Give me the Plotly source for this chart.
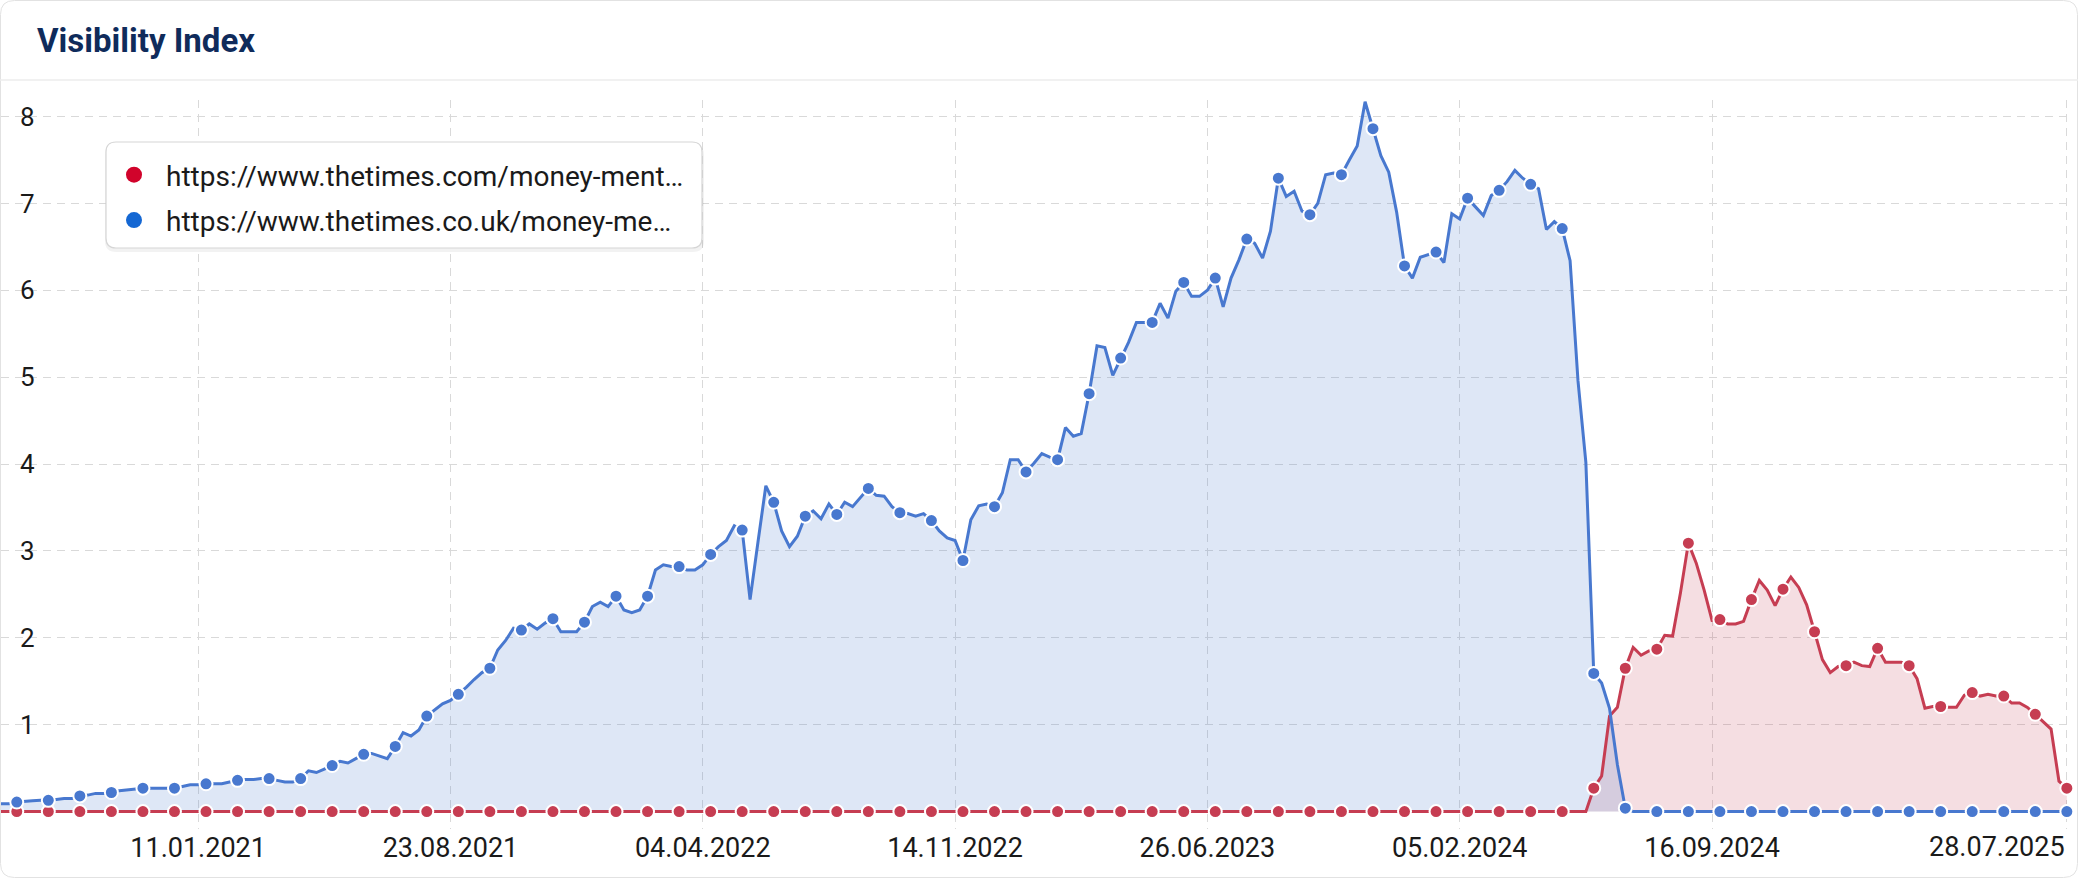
import pandas as pd
import plotly.graph_objects as go

# ---------------- data (weekly Visibility Index) ----------------
week_start = "2020-07-20"
week_end = "2025-07-28"
dates = pd.date_range(week_start, week_end, freq="7D")  # 263 weekly points

series_com_name = "https://www.thetimes.com/money-ment…"
series_couk_name = "https://www.thetimes.co.uk/money-me…"

times_couk = [
    0.09, 0.09, 0.11, 0.12, 0.125, 0.13, 0.13, 0.14, 0.15, 0.15,
    0.18, 0.19, 0.21, 0.21, 0.22, 0.24, 0.25, 0.26, 0.27, 0.27,
    0.27, 0.27, 0.27, 0.29, 0.31, 0.31, 0.32, 0.32, 0.32, 0.34,
    0.36, 0.37, 0.37, 0.38, 0.38, 0.36, 0.34, 0.34, 0.38, 0.47,
    0.45, 0.49, 0.53, 0.58, 0.56, 0.61, 0.66, 0.67, 0.64, 0.61,
    0.75, 0.91, 0.87, 0.94, 1.10, 1.17, 1.24, 1.28, 1.35, 1.43,
    1.52, 1.60, 1.65, 1.86, 1.97, 2.11, 2.09, 2.16, 2.10, 2.17,
    2.22, 2.07, 2.07, 2.07, 2.18, 2.36, 2.41, 2.36, 2.48, 2.32,
    2.29, 2.32, 2.48, 2.78, 2.84, 2.82, 2.82, 2.78, 2.78, 2.84,
    2.96, 3.05, 3.12, 3.29, 3.24, 2.44, 3.10, 3.75, 3.56, 3.23,
    3.05, 3.17, 3.40, 3.46, 3.37, 3.54, 3.42, 3.56, 3.51, 3.62,
    3.72, 3.64, 3.63, 3.51, 3.44, 3.43, 3.40, 3.43, 3.35, 3.23,
    3.15, 3.12, 2.89, 3.36, 3.52, 3.54, 3.51, 3.67, 4.05, 4.05,
    3.91, 4.01, 4.12, 4.08, 4.05, 4.42, 4.32, 4.35, 4.81, 5.36,
    5.34, 5.02, 5.22, 5.40, 5.63, 5.63, 5.63, 5.85, 5.68, 5.99,
    6.09, 5.93, 5.93, 6.00, 6.14, 5.81, 6.14, 6.35, 6.59, 6.54,
    6.37, 6.68, 7.29, 7.08, 7.14, 6.91, 6.87, 7.00, 7.33, 7.35,
    7.33, 7.50, 7.66, 8.17, 7.86, 7.55, 7.36, 6.90, 6.28, 6.14,
    6.38, 6.41, 6.44, 6.32, 6.88, 6.82, 7.06, 6.96, 6.86, 7.09,
    7.15, 7.25, 7.38, 7.29, 7.22, 7.17, 6.70, 6.79, 6.71, 6.34,
    4.96, 4.02, 1.59, 1.48, 1.19, 0.54, 0.04, 0, 0, 0,
    0, 0, 0, 0, 0, 0, 0, 0, 0, 0,
    0, 0, 0, 0, 0, 0, 0, 0, 0, 0,
    0, 0, 0, 0, 0, 0, 0, 0, 0, 0,
    0, 0, 0, 0, 0, 0, 0, 0, 0, 0,
    0, 0, 0, 0, 0, 0, 0, 0, 0, 0,
    0, 0, 0,
]

times_com = [
    0, 0, 0, 0, 0, 0, 0, 0, 0, 0,
    0, 0, 0, 0, 0, 0, 0, 0, 0, 0,
    0, 0, 0, 0, 0, 0, 0, 0, 0, 0,
    0, 0, 0, 0, 0, 0, 0, 0, 0, 0,
    0, 0, 0, 0, 0, 0, 0, 0, 0, 0,
    0, 0, 0, 0, 0, 0, 0, 0, 0, 0,
    0, 0, 0, 0, 0, 0, 0, 0, 0, 0,
    0, 0, 0, 0, 0, 0, 0, 0, 0, 0,
    0, 0, 0, 0, 0, 0, 0, 0, 0, 0,
    0, 0, 0, 0, 0, 0, 0, 0, 0, 0,
    0, 0, 0, 0, 0, 0, 0, 0, 0, 0,
    0, 0, 0, 0, 0, 0, 0, 0, 0, 0,
    0, 0, 0, 0, 0, 0, 0, 0, 0, 0,
    0, 0, 0, 0, 0, 0, 0, 0, 0, 0,
    0, 0, 0, 0, 0, 0, 0, 0, 0, 0,
    0, 0, 0, 0, 0, 0, 0, 0, 0, 0,
    0, 0, 0, 0, 0, 0, 0, 0, 0, 0,
    0, 0, 0, 0, 0, 0, 0, 0, 0, 0,
    0, 0, 0, 0, 0, 0, 0, 0, 0, 0,
    0, 0, 0, 0, 0, 0, 0, 0, 0, 0,
    0, 0, 0.27, 0.41, 1.10, 1.20, 1.65, 1.89, 1.80, 1.85,
    1.87, 2.03, 2.02, 2.52, 3.09, 2.86, 2.55, 2.20, 2.21, 2.16,
    2.16, 2.19, 2.44, 2.66, 2.55, 2.37, 2.56, 2.70, 2.58, 2.38,
    2.07, 1.75, 1.60, 1.67, 1.68, 1.72, 1.68, 1.67, 1.88, 1.72,
    1.72, 1.72, 1.68, 1.53, 1.19, 1.21, 1.21, 1.20, 1.20, 1.34,
    1.37, 1.33, 1.35, 1.33, 1.33, 1.25, 1.25, 1.20, 1.12, 1.04,
    0.95, 0.35, 0.27,
]

tick_dates = ["2021-01-11", "2021-08-23", "2022-04-04", "2022-11-14",
              "2023-06-26", "2024-02-05", "2024-09-16", "2025-07-28"]
tick_labels = ["11.01.2021", "23.08.2021", "04.04.2022", "14.11.2022",
               "26.06.2023", "05.02.2024", "16.09.2024", ""]
last_tick_label = "28.07.2025"
y_ticks = [1, 2, 3, 4, 5, 6, 7, 8]

# ---------------- styling ----------------
W, H = 2078, 878
L, R, T, B = 1, 9, 100, 49
PW, PH = W - L - R, H - T - B

BLUE = "#4878CF"
BLUE_FILL = "rgba(72,120,207,0.18)"
RED = "#C63D52"
RED_FILL = "rgba(198,61,82,0.17)"
LEG_RED = "#D1032B"
LEG_BLUE = "#1467D3"
FONT = "Roboto"


def px(x):
    return (x - L) / PW


def py(y):
    return (H - B - y) / PH


def rrect(x0, y0, x1, y1, r):
    return (
        f"M {px(x0 + r)},{py(y0)} L {px(x1 - r)},{py(y0)} "
        f"Q {px(x1)},{py(y0)} {px(x1)},{py(y0 + r)} "
        f"L {px(x1)},{py(y1 - r)} Q {px(x1)},{py(y1)} {px(x1 - r)},{py(y1)} "
        f"L {px(x0 + r)},{py(y1)} Q {px(x0)},{py(y1)} {px(x0)},{py(y1 - r)} "
        f"L {px(x0)},{py(y0 + r)} Q {px(x0)},{py(y0)} {px(x0 + r)},{py(y0)} Z"
    )


fig = go.Figure()

# legend-only entries
fig.add_trace(go.Scatter(x=[None], y=[None], mode="markers", name=series_com_name,
                         legendgroup="a", marker=dict(color=LEG_RED, size=16)))
fig.add_trace(go.Scatter(x=[None], y=[None], mode="markers", name=series_couk_name,
                         legendgroup="b", marker=dict(color=LEG_BLUE, size=16)))

# area fills
fig.add_trace(go.Scatter(x=dates, y=times_com, mode="lines", fill="tozeroy",
                         fillcolor=RED_FILL, line=dict(width=0, color=RED),
                         showlegend=False, hoverinfo="skip"))
fig.add_trace(go.Scatter(x=dates, y=times_couk, mode="lines", fill="tozeroy",
                         fillcolor=BLUE_FILL, line=dict(width=0, color=BLUE),
                         showlegend=False, hoverinfo="skip"))
# lines
fig.add_trace(go.Scatter(x=dates, y=times_com, mode="lines",
                         line=dict(width=3, color=RED), showlegend=False))
fig.add_trace(go.Scatter(x=dates, y=times_couk, mode="lines",
                         line=dict(width=3, color=BLUE), showlegend=False))
# markers every 4th week (ending at latest week)
fig.add_trace(go.Scatter(x=dates[2::4], y=times_com[2::4], mode="markers",
                         marker=dict(size=13, color=RED, line=dict(color="white", width=2)),
                         showlegend=False, cliponaxis=False))
fig.add_trace(go.Scatter(x=dates[2::4], y=times_couk[2::4], mode="markers",
                         marker=dict(size=13, color=BLUE, line=dict(color="white", width=2)),
                         showlegend=False, cliponaxis=False))

grid = dict(showgrid=True, gridcolor="#d9d9d9", gridwidth=1.4, griddash="8px,6px")

fig.update_layout(
    width=W, height=H,
    margin=dict(l=L, r=R, t=T, b=B, pad=0),
    paper_bgcolor="white",
    plot_bgcolor="rgba(0,0,0,0)",
    font=dict(family=FONT, color="#1a1a1a"),
    title=dict(text="<b>Visibility Index</b>", xref="container", yref="container",
               x=37 / W, xanchor="left", y=1 - 40 / H, yanchor="middle",
               font=dict(family=FONT, size=33, color="#0f2b5b")),
    xaxis=dict(type="date", range=[week_start, "2025-07-29 22:00"],
               tickvals=tick_dates, ticktext=tick_labels, ticks="",
               tickfont=dict(size=27, color="#1a1a1a"), showline=False,
               zeroline=False, **grid),
    yaxis=dict(range=[-0.2, 8.19], tickvals=y_ticks, ticks="",
               ticklabelposition="inside", ticklabelstandoff=16,
               tickfont=dict(size=26, color="#1a1a1a"), showline=False,
               zeroline=False, **grid),
    showlegend=True,
    legend=dict(x=px(102), y=py(150), xanchor="left", yanchor="top",
                bgcolor="rgba(0,0,0,0)", borderwidth=0,
                font=dict(family=FONT, size=28, color="#1a1a1a"),
                itemwidth=54, tracegroupgap=6, traceorder="grouped"),
    annotations=[dict(text=last_tick_label, x=tick_dates[-1], xref="x",
                      xanchor="right", y=py(847), yref="paper", yanchor="middle",
                      showarrow=False, font=dict(family=FONT, size=27, color="#1a1a1a"))],
    shapes=[
        dict(type="path", path=rrect(0.5, 0.5, W - 0.5, H - 0.5, 14), xref="paper", yref="paper",
             line=dict(color="#e2e2e2", width=1), fillcolor="rgba(0,0,0,0)", layer="below"),
        dict(type="line", x0=px(0), x1=px(W), y0=py(80), y1=py(80), xref="paper", yref="paper",
             line=dict(color="#ececec", width=1.5), layer="below"),
        dict(type="path", path=rrect(105, 144, 704, 252, 11), xref="paper", yref="paper",
             line=dict(width=0), fillcolor="rgba(0,0,0,0.05)", layer="above"),
        dict(type="path", path=rrect(106, 142, 702, 248, 10), xref="paper", yref="paper",
             line=dict(color="#d6d6d6", width=1.2), fillcolor="white", layer="above"),
    ],
)

fig.write_html("out.html", config={"displayModeBar": False},
               post_script="document.body.style.margin='0';")
